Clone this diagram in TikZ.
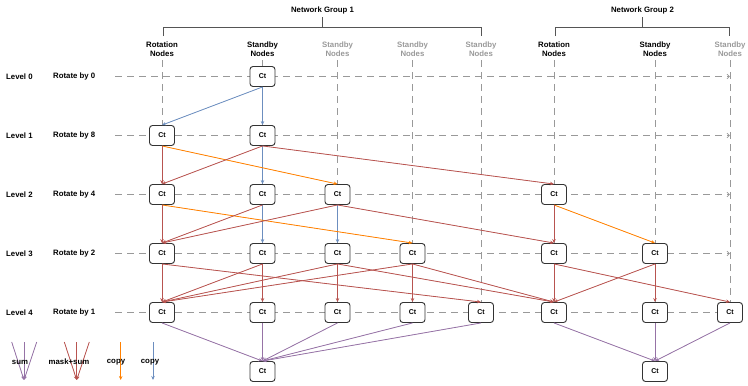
\documentclass[tikz,border=0pt]{standalone}
\usepackage{fontspec}
\setmainfont{Liberation Sans}
\usetikzlibrary{arrows.meta}
\definecolor{cblue}{HTML}{6C8EBF}
\definecolor{cred}{HTML}{B85450}
\definecolor{corange}{HTML}{FF8000}
\definecolor{cpurple}{HTML}{9673A6}
\definecolor{cguide}{HTML}{999999}
\definecolor{cbrack}{HTML}{555555}
\begin{document}
\begin{tikzpicture}[x=1pt,y=-1pt,
  ct/.style={draw=black!80, line width=0.9pt, fill=white, rounded corners=3pt,
    minimum width=25pt, minimum height=20pt, inner sep=0pt,
    font=\fontsize{7}{8}\selectfont\bfseries},
  lbl/.style={font=\fontsize{7.8}{9}\selectfont\bfseries, inner sep=0pt, align=center},
  glbl/.style={lbl, text=cguide},
  guide/.style={draw=cguide, dash pattern=on 7pt off 5pt, line width=0.7pt},
  hguide/.style={guide, -{Straight Barb[length=2.5pt,width=4.5pt]}},
  brack/.style={draw=cbrack, line width=0.9pt},
  arr/.style={-{Stealth[length=4pt,width=3.5pt]}, line width=0.8pt},
  blue/.style={arr, draw=cblue, fill=cblue},
  red/.style={arr, draw=cred, fill=cred},
  orange/.style={arr, draw=corange, fill=corange},
  purple/.style={arr, draw=cpurple, fill=cpurple}
]
\useasboundingbox (0,0) rectangle (748,386);

% column x and row y
\def\xa{162}\def\xb{262.5}\def\xc{337.5}\def\xd{412.5}\def\xe{481}
\def\xf{554}\def\xg{655}\def\xh{730}
\def\ya{76.5}\def\yb{135.5}\def\yc{194.5}\def\yd{253.5}\def\ye{312.5}\def\yf{371.5}

% headers
\node[lbl] (ng1) at (322.5,10.3) {Network Group 1};
\node[lbl] (ng2) at (642.5,10.3) {Network Group 2};
\coordinate (g1t) at (322.5,17.3);
\coordinate (g1m) at (322.5,27.3);
\coordinate (g1l) at (163,27.3);
\coordinate (g1r) at (481,27.3);
\coordinate (g2t) at (642.5,17.3);
\coordinate (g2m) at (642.5,27.3);
\coordinate (g2l) at (555,27.3);
\coordinate (g2r) at (729.5,27.3);
\draw[brack] (g1t) -- (g1m);
\draw[brack] (g1l |- 0,36) -- (g1l) -- (g1r) -- (g1r |- 0,36);
\draw[brack] (g2t) -- (g2m);
\draw[brack] (g2l |- 0,36) -- (g2l) -- (g2r) -- (g2r |- 0,36);

\node[lbl]  (h1) at (\xa,49.5) {Rotation\\Nodes};
\node[lbl]  (h2) at (\xb,49.5) {Standby\\Nodes};
\node[glbl] (h3) at (\xc,49.5) {Standby\\Nodes};
\node[glbl] (h4) at (\xd,49.5) {Standby\\Nodes};
\node[glbl] (h5) at (\xe,49.5) {Standby\\Nodes};
\node[lbl]  (h6) at (\xf,49.5) {Rotation\\Nodes};
\node[lbl]  (h7) at (\xg,49.5) {Standby\\Nodes};
\node[glbl] (h8) at (\xh,49.5) {Standby\\Nodes};

% guides
\foreach \x in {\xa,\xb,\xc,\xd,\xe,\xf,\xg,\xh}
  \draw[guide] (\x,60) -- (\x,\ye);
\foreach \y in {\ya,\yb,\yc,\yd}
  \draw[hguide] (115,\y) -- (\xh,\y);
\draw[guide] (115,\ye) -- (\xh,\ye);

% left labels
\foreach \i/\y/\r in {0/\ya/0,1/\yb/8,2/\yc/4,3/\yd/2,4/\ye/1}{
  \node[lbl, anchor=west] (lv\i) at (6,\y) {Level \i};
  \node[lbl, anchor=west] (rt\i) at (53,\y) {Rotate by \r};
}

% nodes
\node[ct] (n0) at (\xb,\ya) {Ct};
\node[ct] (a1) at (\xa,\yb) {Ct};
\node[ct] (b1) at (\xb,\yb) {Ct};
\node[ct] (a2) at (\xa,\yc) {Ct};
\node[ct] (b2) at (\xb,\yc) {Ct};
\node[ct] (c2) at (\xc,\yc) {Ct};
\node[ct] (f2) at (\xf,\yc) {Ct};
\node[ct] (a3) at (\xa,\yd) {Ct};
\node[ct] (b3) at (\xb,\yd) {Ct};
\node[ct] (c3) at (\xc,\yd) {Ct};
\node[ct] (d3) at (\xd,\yd) {Ct};
\node[ct] (f3) at (\xf,\yd) {Ct};
\node[ct] (g3) at (\xg,\yd) {Ct};
\node[ct] (a4) at (\xa,\ye) {Ct};
\node[ct] (b4) at (\xb,\ye) {Ct};
\node[ct] (c4) at (\xc,\ye) {Ct};
\node[ct] (d4) at (\xd,\ye) {Ct};
\node[ct] (e4) at (\xe,\ye) {Ct};
\node[ct] (f4) at (\xf,\ye) {Ct};
\node[ct] (g4) at (\xg,\ye) {Ct};
\node[ct] (h4) at (\xh,\ye) {Ct};
\node[ct] (s1) at (\xb,\yf) {Ct};
\node[ct] (s2) at (\xg,\yf) {Ct};

% blue copies
\foreach \s/\t in {n0/a1,n0/b1,b1/b2,b2/b3,c2/c3}
  \draw[blue] (\s.south) -- (\t.north);
% orange copies
\foreach \s/\t in {a1/c2,a2/d3,f2/g3}
  \draw[orange] (\s.south) -- (\t.north);
% red mask+sum
\foreach \s/\t in {a1/a2,b1/a2,b1/f2,
                   a2/a3,b2/a3,c2/a3,c2/f3,f2/f3,
                   a3/a4,a3/e4,b3/a4,b3/b4,c3/a4,c3/c4,c3/f4,
                   d3/a4,d3/d4,d3/f4,f3/f4,f3/h4,g3/f4,g3/g4}
  \draw[red] (\s.south) -- (\t.north);
% purple sums
\foreach \s in {a4,b4,c4,d4,e4}
  \draw[purple] (\s.south) -- (s1.north);
\foreach \s in {f4,g4,h4}
  \draw[purple] (\s.south) -- (s2.north);

% legend
\coordinate (lp) at (24,380);
\foreach \x [count=\k] in {11.7,24,36.7}{
  \coordinate (lpt\k) at (\x,342);
  \draw[purple] (lpt\k) -- (lp);
}
\coordinate (lr) at (76.7,380);
\foreach \x [count=\k] in {64.3,76.7,89.3}{
  \coordinate (lrt\k) at (\x,342);
  \draw[red] (lrt\k) -- (lr);
}
\coordinate (lot) at (120.7,342);
\coordinate (lob) at (120.7,380);
\draw[orange] (lot) -- (lob);
\coordinate (lbt) at (153,342);
\coordinate (lbb) at (153,380);
\draw[blue] (lbt) -- (lbb);
\node[lbl] (leg1) at (20,362) {sum};
\node[lbl] (leg2) at (69,362) {mask+sum};
\node[lbl] (leg3) at (116,362) {copy};
\node[lbl] (leg4) at (150,362) {copy};
\end{tikzpicture}
\end{document}
